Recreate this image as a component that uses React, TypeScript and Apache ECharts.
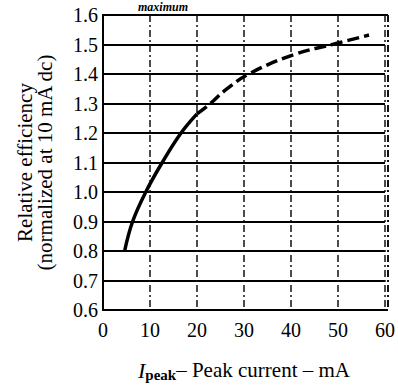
import React, { useEffect, useRef } from "react";
import * as echarts from "echarts";

const xTicks = [0, 10, 20, 30, 40, 50, 60];
const yTicks = [0.6, 0.7, 0.8, 0.9, 1.0, 1.1, 1.2, 1.3, 1.4, 1.5, 1.6];
const solidCurve: [number, number][] = [
  [4.6, 0.8],
  [6.3, 0.9],
  [9.1, 1.0],
  [12.6, 1.1],
  [16.6, 1.2],
  [20.0, 1.265],
];
const dashedCurve: [number, number][] = [
  [20.0, 1.265],
  [22.5, 1.295],
  [26, 1.345],
  [31, 1.4],
  [40.5, 1.465],
  [50, 1.505],
  [56.6, 1.532],
];

export default function App() {
  const ref = useRef<HTMLDivElement>(null);
  useEffect(() => {
    if (!ref.current) return;
    const chart = echarts.init(ref.current, null, { renderer: "svg" });
    const font = "Liberation Serif, Times New Roman, serif";
    const L = 103, T = 15, R = 388, B = 310;
    chart.setOption({
      animation: false,
      backgroundColor: "#fff",
      textStyle: { fontFamily: font, color: "#000" },
      grid: { left: L, right: 398 - R, top: T, bottom: 388 - B },
      xAxis: {
        type: "value",
        min: xTicks[0],
        max: xTicks[xTicks.length - 1],
        interval: 10,
        axisLine: { show: true, lineStyle: { color: "#000", width: 2 } },
        axisTick: { show: false },
        axisLabel: { fontSize: 20, color: "#000", fontFamily: font, margin: 10 },
        splitLine: {
          show: true,
          lineStyle: { color: "#111", width: 1.5, type: [7, 3, 2, 3] },
        },
        name: "{i|I}{sub|peak}\u2013 Peak current \u2013 mA",
        nameLocation: "middle",
        nameGap: 48,
        nameTextStyle: {
          fontSize: 21,
          color: "#000",
          fontFamily: font,
          rich: {
            i: { fontSize: 22, fontStyle: "italic", fontFamily: font, color: "#000" },
            sub: {
              fontSize: 15,
              fontWeight: "bold",
              fontFamily: font,
              color: "#000",
              verticalAlign: "bottom",
              padding: [9, 0, 0, 0],
            },
          },
        },
      },
      yAxis: {
        type: "value",
        min: yTicks[0],
        max: yTicks[yTicks.length - 1],
        interval: 0.1,
        axisLine: { show: true, lineStyle: { color: "#000", width: 2 } },
        axisTick: { show: false },
        axisLabel: {
          fontSize: 20,
          color: "#000",
          fontFamily: font,
          margin: 5,
          formatter: (v: number) => v.toFixed(1),
        },
        splitLine: { show: true, lineStyle: { color: "#000", width: 2 } },
        name: "Relative efficiency\n(normalized at 10 mA dc)",
        nameLocation: "middle",
        nameRotate: 90,
        nameGap: 48,
        nameTextStyle: {
          fontSize: 21,
          lineHeight: 20,
          color: "#000",
          fontFamily: font,
        },
      },
      graphic: [
        {
          type: "polyline",
          shape: { points: [[R, T], [L, T], [L, B], [R, B]] },
          style: { fill: "none", stroke: "#000", lineWidth: 2 },
          silent: true,
        },
        {
          type: "line",
          shape: { x1: R, y1: T, x2: R, y2: B },
          style: { stroke: "#111", lineWidth: 2, lineDash: [7, 3, 2, 3] },
          silent: true,
        },
        {
          type: "text",
          x: 138,
          y: 1,
          style: {
            text: "maximum",
            fontFamily: font,
            fontSize: 12,
            fontWeight: "bold",
            fontStyle: "italic",
            fill: "#000",
          },
          silent: true,
        },
      ],
      series: [
        {
          type: "line",
          data: solidCurve,
          smooth: 0.4,
          showSymbol: false,
          lineStyle: { color: "#000", width: 3.5 },
        },
        {
          type: "line",
          data: dashedCurve,
          smooth: 0.4,
          showSymbol: false,
          lineStyle: { color: "#000", width: 3.5, type: [12, 5] },
        },
      ],
    });
    return () => chart.dispose();
  }, []);
  return (
    <div
      ref={ref}
      style={{ position: "fixed", left: 0, top: 0, width: 398, height: 388 }}
    />
  );
}
